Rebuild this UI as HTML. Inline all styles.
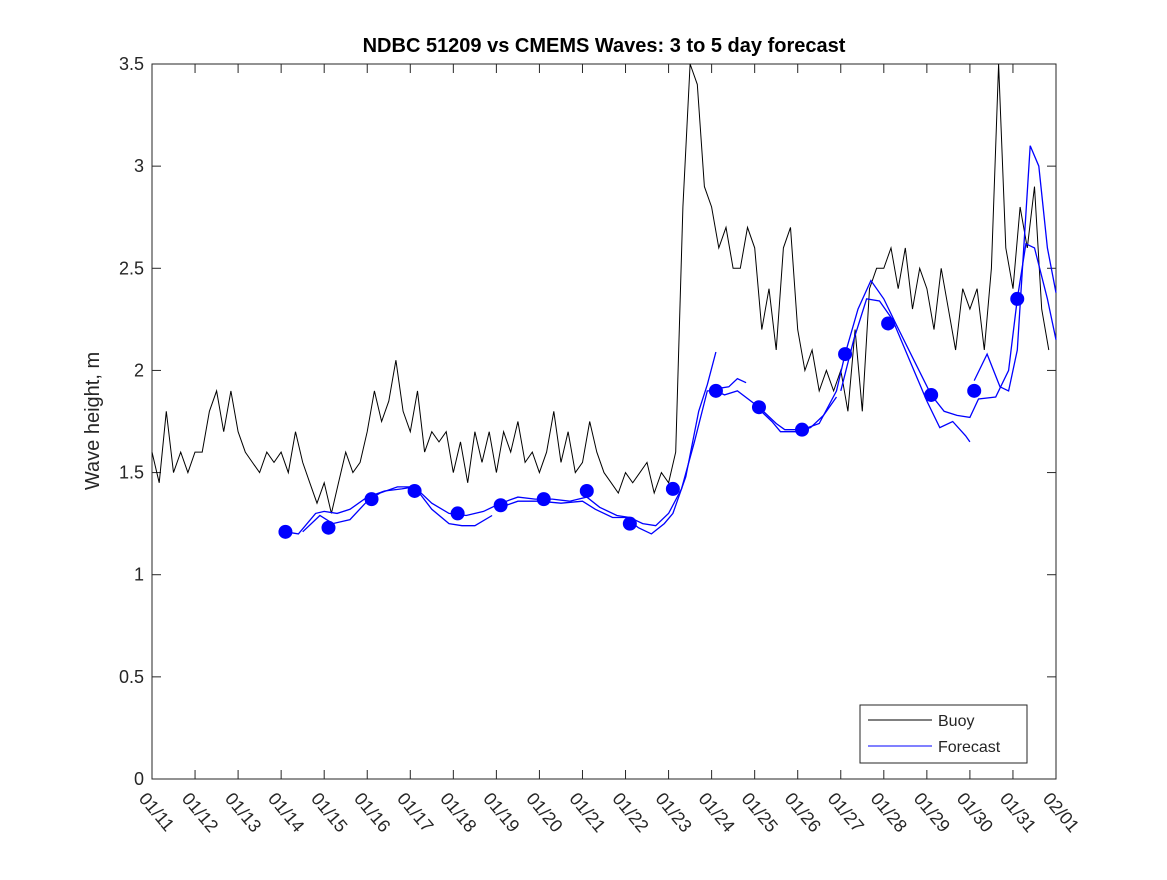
<!DOCTYPE html>
<html><head><meta charset="utf-8"><style>
body{margin:0;background:#fff;}
svg text{font-family:"Liberation Sans","DejaVu Sans",sans-serif;}
</style></head><body>
<svg id="chart" width="1167" height="875" xmlns="http://www.w3.org/2000/svg">
<rect width="1167" height="875" fill="#fff"/>
<text x="604" y="52" text-anchor="middle" font-size="20" font-weight="bold">NDBC 51209 vs CMEMS Waves: 3 to 5 day forecast</text>
<rect x="152" y="64" width="904" height="715" fill="#fff" stroke="#262626" stroke-width="1"/>
<g id="axes"></g>
<g id="series"></g>
<text transform="translate(99,421) rotate(-90)" text-anchor="middle" font-size="20" fill="#262626">Wave height, m</text>
<g>
<rect x="860" y="705" width="167" height="58" fill="#fff" stroke="#262626"/>
<line x1="868" y1="720" x2="932" y2="720" stroke="#000"/>
<text x="938" y="726" font-size="16" fill="#262626">Buoy</text>
<line x1="868" y1="746" x2="932" y2="746" stroke="#0000ff"/>
<text x="938" y="752" font-size="16" fill="#262626">Forecast</text>
</g>
</svg>
<script>
const xLabels=["01/11","01/12","01/13","01/14","01/15","01/16","01/17","01/18","01/19","01/20","01/21","01/22","01/23","01/24","01/25","01/26","01/27","01/28","01/29","01/30","01/31","02/01"];
const yTicks=[0,0.5,1,1.5,2,2.5,3,3.5];
const buoyVals=[
1.6,1.45,1.8,1.5,1.6,1.5,
1.6,1.6,1.8,1.9,1.7,1.9,
1.7,1.6,1.55,1.5,1.6,1.55,
1.6,1.5,1.7,1.55,1.45,1.35,
1.45,1.3,1.45,1.6,1.5,1.55,
1.7,1.9,1.75,1.85,2.05,1.8,
1.7,1.9,1.6,1.7,1.65,1.7,
1.5,1.65,1.45,1.7,1.55,1.7,
1.5,1.7,1.6,1.75,1.55,1.6,
1.5,1.6,1.8,1.55,1.7,1.5,
1.55,1.75,1.6,1.5,1.45,1.4,
1.5,1.45,1.5,1.55,1.4,1.5,
1.45,1.6,2.8,3.5,3.4,2.9,
2.8,2.6,2.7,2.5,2.5,2.7,
2.6,2.2,2.4,2.1,2.6,2.7,
2.2,2.0,2.1,1.9,2.0,1.9,
2.0,1.8,2.2,1.8,2.4,2.5,
2.5,2.6,2.4,2.6,2.3,2.5,
2.4,2.2,2.5,2.3,2.1,2.4,
2.3,2.4,2.1,2.5,3.5,2.6,
2.4,2.8,2.6,2.9,2.3,2.1];
const buoyStep=1/6;
const fc1Days=[3.1,3.4,3.8,4.0,4.3,4.6,5.0,5.4,5.8,6.1,6.5,6.9,7.3,7.7,8.1,8.5,8.9,9.3,9.7,10.1,10.4,10.8,11.1,11.4,11.7,12.0,12.3,12.6,12.9,13.1,13.3,13.6,14.1,14.5,14.7,15.1,15.5,15.9,16.1,16.4,16.7,17.0,17.3,17.7,18.1,18.4,18.7,19.0,19.2,19.6,19.9,20.1,20.3,20.5,20.8,21.0];
const fc1Vals=[1.21,1.2,1.3,1.31,1.30,1.32,1.38,1.41,1.42,1.43,1.35,1.30,1.29,1.31,1.35,1.38,1.37,1.37,1.36,1.38,1.33,1.29,1.28,1.25,1.24,1.30,1.42,1.65,1.90,1.90,1.88,1.90,1.82,1.74,1.71,1.71,1.74,1.90,2.08,2.30,2.44,2.35,2.22,2.05,1.88,1.80,1.78,1.77,1.86,1.87,2.0,2.35,2.62,2.60,2.35,2.15];
const fc2Days=[3.5,3.9,4.2,4.6,5.0,5.3,5.7,6.1,6.5,6.9,7.2,7.5,7.9];
const fc2Vals=[1.21,1.29,1.25,1.27,1.36,1.40,1.43,1.43,1.32,1.25,1.24,1.24,1.29];
const fc3Days=[8.1,8.5,9.0,9.5,10.0,10.3,10.7,11.0,11.3,11.6,11.9,12.1,12.4,12.7,12.9,13.1];
const fc3Vals=[1.33,1.36,1.36,1.35,1.36,1.32,1.28,1.28,1.23,1.20,1.25,1.30,1.48,1.80,1.93,2.09];
const fc4Days=[13.1,13.4,13.6,13.8];
const fc4Vals=[1.91,1.92,1.96,1.94];
const fc5Days=[14.1,14.4,14.6,15.0,15.3,15.6,15.9];
const fc5Vals=[1.81,1.75,1.70,1.70,1.72,1.78,1.87];
const fc6Days=[16.0,16.3,16.6,16.9,17.2,17.6,18.0,18.3,18.6,18.9,19.0];
const fc6Vals=[1.90,2.15,2.35,2.34,2.25,2.05,1.85,1.72,1.75,1.68,1.65];
const fc7Days=[19.1,19.4,19.7,19.9,20.1,20.4,20.6,20.8,21.0];
const fc7Vals=[1.95,2.08,1.92,1.90,2.1,3.1,3.0,2.6,2.38];
const dotDays=[3.1,4.1,5.1,6.1,7.1,8.1,9.1,10.1,11.1,12.1,13.1,14.1,15.1,16.1,17.1,18.1,19.1,20.1];
const dotVals=[1.21,1.23,1.37,1.41,1.30,1.34,1.37,1.41,1.25,1.42,1.90,1.82,1.71,2.08,2.23,1.88,1.90,2.35];

const X0=152,X1=1056,Y0=779,Y1=64;
const xs=d=>X0+(X1-X0)*d/21;
const ys=v=>Y0-(Y0-Y1)*v/3.5;
const NS="http://www.w3.org/2000/svg";
const axes=document.getElementById('axes');
const ser=document.getElementById('series');
function mk(tag,attrs,parent){const e=document.createElementNS(NS,tag);for(const k in attrs)e.setAttribute(k,attrs[k]);parent.appendChild(e);return e;}
xLabels.forEach((lab,i)=>{
  const x=xs(i);
  const t1=mk('line',{x1:x,y1:Y0,x2:x,y2:Y0-9,stroke:'#262626'},axes);
  
  
  mk('line',{x1:x,y1:Y1,x2:x,y2:Y1+9,stroke:'#262626'},axes);
  const t=mk('text',{x:0,y:0,'font-size':18,fill:'#262626',transform:`translate(${x-14},${Y0+20}) rotate(50)`},axes);
  t.textContent=lab;
  
  
});
yTicks.forEach(v=>{
  const y=ys(v);
  const l=mk('line',{x1:X0,y1:y,x2:X0+9,y2:y,stroke:'#262626'},axes);
  
  
  mk('line',{x1:X1,y1:y,x2:X1-9,y2:y,stroke:'#262626'},axes);
  const t=mk('text',{x:X0-8,y:y+6,'font-size':18,'text-anchor':'end',fill:'#262626'},axes);
  t.textContent=String(v);
  
  
});
const bp=buoyVals.map((v,i)=>xs(i*buoyStep).toFixed(1)+','+ys(v).toFixed(1)).join(' ');
const buoy=mk('polyline',{points:bp,fill:'none',stroke:'#000','stroke-width':1},ser);


[[fc1Days,fc1Vals],[fc2Days,fc2Vals],[fc3Days,fc3Vals],[fc4Days,fc4Vals],[fc5Days,fc5Vals],[fc6Days,fc6Vals],[fc7Days,fc7Vals]].forEach(([d,v])=>{
  const p=d.map((dd,i)=>xs(dd).toFixed(1)+','+ys(v[i]).toFixed(1)).join(' ');
  const pl=mk('polyline',{points:p,fill:'none',stroke:'#0000ff','stroke-width':1.3},ser);
  
  
});
dotDays.forEach((d,i)=>{
  const c=mk('circle',{cx:xs(d),cy:ys(dotVals[i]),r:7,fill:'#0000ff'},ser);
  
  
});
</script>
</body></html>
